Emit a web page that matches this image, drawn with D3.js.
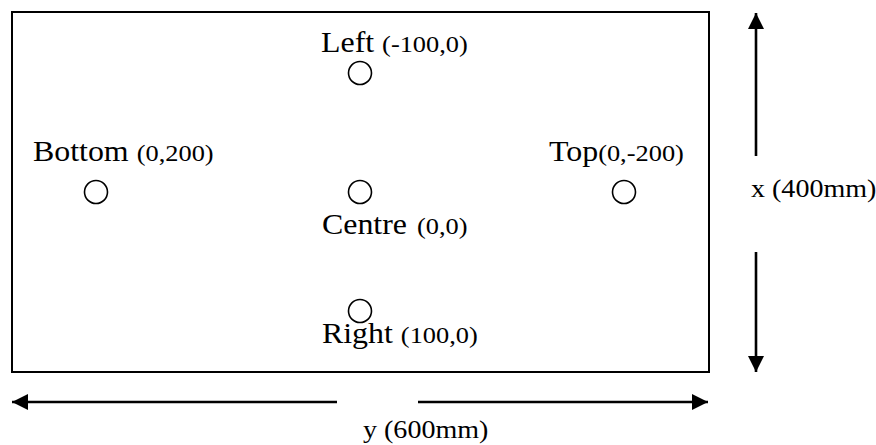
<!DOCTYPE html>
<html>
 <head>
  <meta charset="utf-8">
  <title>Measuring points on the plate</title>
  <script src="https://cdnjs.cloudflare.com/ajax/libs/d3/7.8.5/d3.min.js"></script>
  <style>
    body { margin: 0; background: #fff; }
    text { font-family: "Liberation Serif", "Times New Roman", serif; fill: #000; }
  </style>
 </head>
 <body>
  <script>
    // points on the plate, coordinates in mm (x across 400mm, y along 600mm)
    var names  = ["Left", "Bottom", "Centre", "Top", "Right"];
    var xs     = [-100, 0, 0, 0, 100];
    var ys     = [0, 200, 0, -200, 0];
    var coords = ["(-100,0)", "(0,200)", "(0,0)", "(0,-200)", "(100,0)"];
    var dims   = ["x (400mm)", "y (600mm)"];

    var width = 876, height = 445;
    var sx = 1.1;   // text in the picture is a little wide

    // screen y follows plate x, screen x follows plate y (reversed)
    var xScale = d3.scaleLinear().domain([-100, 100]).range([73, 311]);
    var yScale = d3.scaleLinear().domain([200, -200]).range([96, 624]);

    var svg = d3.select("body").append("svg")
                .attr("width", width)
                .attr("height", height);

    svg.append("defs").selectAll("marker")
       .data(["head"]).enter().append("marker")
       .attr("id", function(d) { return d; })
       .attr("viewBox", "0 0 16 16")
       .attr("refX", 16).attr("refY", 8)
       .attr("markerUnits", "userSpaceOnUse")
       .attr("markerWidth", 16).attr("markerHeight", 16)
       .attr("orient", "auto-start-reverse")
       .append("path")
       .attr("d", "M0,0 L16,8 L0,16 Z")
       .attr("fill", "#000");

    // plate outline
    svg.append("rect")
       .attr("x", 12).attr("y", 12)
       .attr("width", 697).attr("height", 360)
       .attr("fill", "none")
       .attr("stroke", "#000")
       .attr("stroke-width", 2);

    // measuring points
    svg.selectAll("circle.pt")
       .data(names).enter().append("circle")
       .attr("class", "pt")
       .attr("cx", function(d, i) { return yScale(ys[i]); })
       .attr("cy", function(d, i) { return xScale(xs[i]); })
       .attr("r", 11.5)
       .attr("fill", "none")
       .attr("stroke", "#000")
       .attr("stroke-width", 1.6);

    // label placement relative to each circle: [dx to text start, dy to baseline, gap]
    var place = {
      Left:   [-39, -21, 8],
      Bottom: [-63, -31, 8],
      Top:    [-75, -31, 0],
      Centre: [-38,  42, 10],
      Right:  [-38,  32, 8]
    };

    var labels = svg.selectAll("text.pt")
       .data(names).enter().append("text")
       .attr("class", "pt")
       .attr("transform", function(d, i) {
          var p = place[d];
          return "translate(" + (yScale(ys[i]) + p[0]) + "," + (xScale(xs[i]) + p[1]) + ") scale(" + sx + ",1)";
       });
    labels.append("tspan")
       .style("font-size", "29px")
       .text(function(d) { return d; });
    labels.append("tspan")
       .attr("dx", function(d) { return place[d][2] / sx; })
       .style("font-size", "24px")
       .text(function(d, i) { return coords[i]; });

    // dimension arrows
    function arrow(x1, y1, x2, y2) {
      svg.append("line")
         .attr("x1", x1).attr("y1", y1)
         .attr("x2", x2).attr("y2", y2)
         .attr("stroke", "#000")
         .attr("stroke-width", 2.6)
         .attr("marker-end", "url(#head)");
    }
    arrow(756, 156, 756, 13);
    arrow(756, 252, 756, 372);
    arrow(337, 402, 12, 402);
    arrow(418, 402, 708, 402);

    svg.append("text")
       .attr("transform", "translate(751,197) scale(" + sx + ",1)")
       .style("font-size", "25.5px")
       .text(dims[0]);
    svg.append("text")
       .attr("transform", "translate(363,438) scale(" + sx + ",1)")
       .style("font-size", "25.5px")
       .text(dims[1]);
  </script>
 </body>
</html>
